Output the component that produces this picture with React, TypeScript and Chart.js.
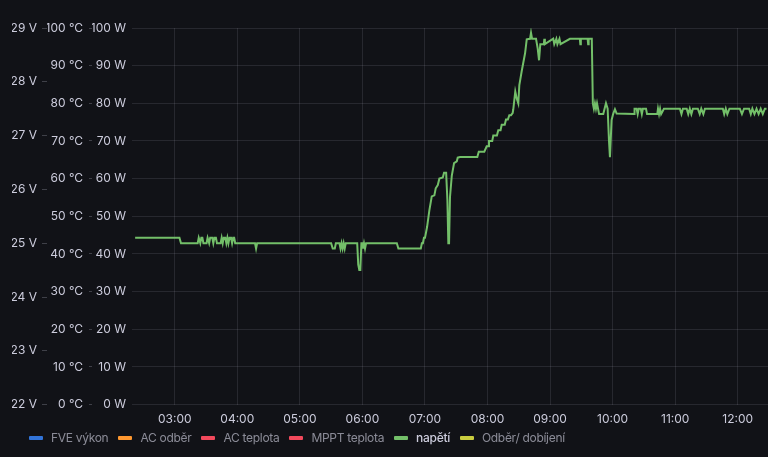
import React, { useEffect, useRef } from "react";
import { Chart, registerables } from "chart.js";

Chart.register(...registerables);

// time in minutes after midnight
const times: number[] = [
  142, 184.5, 186, 202, 203, 204.5, 205.5, 206.5, 207.5, 210.5, 211.5, 213, 214, 216, 217, 218, 219.5, 220.5,
  224, 225, 226, 227, 228.5, 229.5, 230.5, 231.5, 232.5, 234, 235, 236, 237, 238,
  257, 258, 259,
  330, 331.5, 333.5, 334.5, 338, 339, 340, 341, 342, 343, 344,
  355, 356, 357, 358, 359, 360, 360.5, 361.5, 362.5, 363.5,
  393, 394.5, 416, 417, 418, 419, 420, 421, 422,
  424.2, 426.5, 429, 430.3, 432.3, 433.8, 437.1, 438.3, 440.3, 441.5, 442.4, 443.1,
  444, 445.7, 447.9, 450.5, 451.4, 453.6, 470.2, 471.6, 476.9, 479.2, 480.5, 481.4, 484.5, 485.5, 489,
  490.3, 492.5, 493.6, 496.5, 497.7, 499.5,
  500.9, 502.5, 504.1, 504.7, 506.6, 508, 509.5, 510.5, 512.8, 516, 517.6, 520.8, 521.7, 522.7, 526.5, 528.1,
  529.4, 530.6, 534, 534.5, 535, 543, 544, 546, 547, 549, 550, 559, 568.5, 569, 569.5, 576, 576.5, 577,
  580, 581, 582, 583, 584, 585, 586, 587, 589, 591, 593.6, 595.2, 596.5, 597.4, 599, 600.6, 602.2, 603.8,
  620.5, 621, 623, 624, 625, 627, 628, 629, 632, 633,
  642.8, 643.5, 644.5, 645.5, 646.5, 649.2,
  664.5, 666, 667.4, 671, 672.5, 674, 675.5, 677, 681.7, 683.5, 685, 687, 688.5, 690.4,
  705.7, 707, 708.5, 710, 712, 714.1, 722, 724, 726, 728.4, 730.9, 732.5, 734, 736, 738, 740, 742, 744, 746, 747.6,
];

const voltage: number[] = [
  25.1, 25.1, 25.0, 25.0, 25.1, 25.0, 25.1, 25.1, 25.0, 25.0, 25.1, 25.0, 25.1, 25.1, 25.0, 25.1, 25.1, 25.0,
  25.0, 25.1, 25.0, 25.1, 25.1, 25.0, 25.1, 25.0, 25.1, 25.1, 25.0, 25.1, 25.1, 25.0,
  25.0, 24.9, 25.0,
  25.0, 24.9, 24.9, 25.0, 25.0, 24.9, 25.0, 24.9, 25.0, 24.9, 25.0,
  25.0, 24.6, 24.5, 24.5, 25.0, 25.0, 24.9, 25.0, 24.9, 25.0,
  25.0, 24.9, 24.9, 25.0, 25.0, 25.1, 25.1, 25.2, 25.3,
  25.61, 25.87, 25.89, 26.02, 26.08, 26.2, 26.22, 26.31, 26.31, 25.8, 25.0, 25.0,
  25.86, 26.25, 26.49, 26.52, 26.59, 26.6, 26.6, 26.7, 26.7, 26.8, 26.8, 26.9, 26.9, 27.0, 27.0,
  27.1, 27.1, 27.2, 27.2, 27.3, 27.3,
  27.38, 27.38, 27.42, 27.49, 27.82, 27.69, 27.6, 27.94, 28.2, 28.53, 28.79, 28.8, 28.91, 28.8, 28.8, 28.62,
  28.4, 28.7, 28.7, 28.8, 28.7, 28.8, 28.7, 28.8, 28.7, 28.8, 28.7, 28.8, 28.8, 28.7, 28.8, 28.8, 28.7, 28.8,
  28.8, 27.6, 27.5, 27.6, 27.5, 27.6, 27.5, 27.4, 27.4, 27.4, 27.6, 27.5, 26.9, 26.6, 27.29, 27.41, 27.49, 27.41,
  27.4, 27.5, 27.5, 27.4, 27.5, 27.5, 27.4, 27.5, 27.5, 27.4,
  27.4, 27.5, 27.4, 27.5, 27.4, 27.5,
  27.5, 27.4, 27.5, 27.5, 27.4, 27.5, 27.4, 27.5, 27.5, 27.4, 27.5, 27.4, 27.5, 27.5,
  27.5, 27.4, 27.5, 27.4, 27.5, 27.5, 27.5, 27.4, 27.5, 27.5, 27.5, 27.4, 27.5, 27.4, 27.5, 27.4, 27.5, 27.4, 27.5, 27.5,
];

const hourTicks: number[] = [3, 4, 5, 6, 7, 8, 9, 10, 11, 12];

const seriesNames: string[] = ["FVE výkon", "AC odběr", "AC teplota", "MPPT teplota", "napětí", "Odběr/ dobíjení"];
const seriesColors: string[] = ["#3274d9", "#ff9830", "#f2495c", "#f2495c", "#73bf69", "#c9cc3f"];
const seriesAxes: string[] = ["yW", "yW", "yC", "yC", "yV", "yW"];

const BG = "#111217";
const TEXT = "rgb(204,204,220)";
const GRID = "rgba(204,204,220,0.12)";
const TICK = "rgba(204,204,220,0.25)";
const FONT = { family: "Inter", size: 12 };

export default function App() {
  const ref = useRef<HTMLCanvasElement | null>(null);

  useEffect(() => {
    document.body.style.margin = "0";
    document.body.style.background = BG;
    const canvas = ref.current;
    if (!canvas) return;
    const datasets = seriesNames.map((name, i) => ({
      label: name,
      data: name === "napětí" ? times.map((t, k) => ({ x: t, y: voltage[k] })) : [],
      borderColor: seriesColors[i],
      backgroundColor: seriesColors[i],
      borderWidth: 2,
      pointRadius: 0,
      tension: 0,
      yAxisID: seriesAxes[i],
    }));
    const chart = new Chart(canvas, {
      type: "line",
      data: { datasets },
      options: {
        responsive: false,
        animation: false,
        layout: { padding: { left: 12, top: 28, right: 0, bottom: 22 } },
        plugins: { legend: { display: false }, tooltip: { enabled: false } },
        scales: {
          x: {
            type: "linear",
            min: 139,
            max: 749,
            afterBuildTicks: (axis: any) => {
              axis.ticks = hourTicks.map((h) => ({ value: h * 60 }));
            },
            ticks: {
              color: TEXT,
              font: FONT,
              padding: 8,
              maxRotation: 0,
              callback: (v: any) => `${String(Math.round(Number(v) / 60)).padStart(2, "0")}:00`,
            },
            grid: { color: GRID, drawTicks: false },
            border: { display: false },
          },
          yW: {
            position: "left",
            weight: 0,
            min: 0,
            max: 100,
            afterFit: (s: any) => { s.width = 40; },
            ticks: { stepSize: 10, color: TEXT, font: FONT, padding: 6, callback: (v: any) => `${v} W` },
            grid: { color: GRID, drawTicks: false },
            border: { display: false },
          },
          yC: {
            position: "left",
            weight: 1,
            min: 0,
            max: 100,
            afterFit: (s: any) => { s.width = 45; },
            ticks: { stepSize: 10, color: TEXT, font: FONT, padding: 6, callback: (v: any) => `${v} °C` },
            grid: { drawOnChartArea: false, drawTicks: true, tickLength: 3, tickColor: TICK },
            border: { display: false },
          },
          yV: {
            position: "left",
            weight: 2,
            min: 22,
            max: 29,
            afterFit: (s: any) => { s.width = 35; },
            ticks: { stepSize: 1, color: TEXT, font: FONT, padding: 5, callback: (v: any) => `${v} V` },
            grid: { drawOnChartArea: false, drawTicks: true, tickLength: 5, tickColor: TICK },
            border: { display: false },
          },
        },
      },
    } as any);
    return () => chart.destroy();
  }, []);

  return (
    <div style={{ position: "relative", width: 768, height: 457, background: BG, overflow: "hidden" }}>
      <canvas ref={ref} width={768} height={457} style={{ display: "block" }} />
      <div
        style={{
          position: "absolute",
          left: 29,
          top: 430,
          display: "flex",
          alignItems: "center",
          fontFamily: "Inter",
          fontSize: 12,
          letterSpacing: "-0.3px",
          lineHeight: "16px",
          whiteSpace: "nowrap",
        }}
      >
        {seriesNames.map((name, i) => (
          <div key={name} style={{ display: "flex", alignItems: "center", marginRight: 10 }}>
            <span
              style={{ display: "inline-block", width: 14, height: 4, borderRadius: 1, background: seriesColors[i], marginRight: 8 }}
            />
            <span style={{ color: name === "napětí" ? TEXT : "rgba(204,204,220,0.65)", fontWeight: name === "napětí" ? 500 : 400 }}>
              {name}
            </span>
          </div>
        ))}
      </div>
    </div>
  );
}
